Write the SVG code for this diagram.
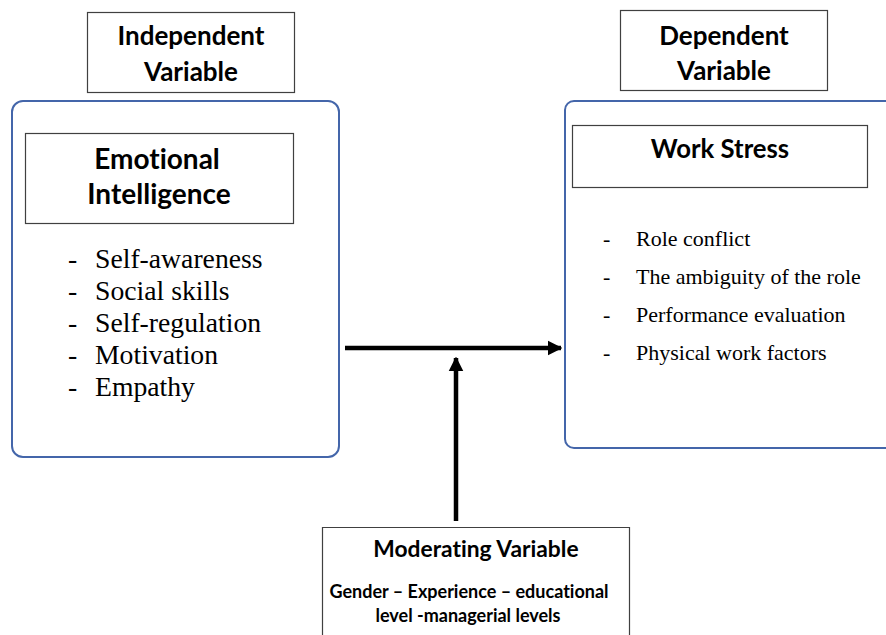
<svg xmlns="http://www.w3.org/2000/svg" width="886" height="635" viewBox="0 0 886 635">
  <defs>
    <style>
      .label { fill: none; stroke: #404040; stroke-width: 1.2; }
      .panel { fill: none; stroke: #4466aa; stroke-width: 2; }
      .head { font-family: "Lato", "Open Sans", "Liberation Sans", sans-serif; font-weight: bold; fill: #000; text-anchor: middle; font-variant-ligatures: none; }
      .item { font-family: "Liberation Serif", "Times New Roman", serif; fill: #000; }
      .link { stroke: #000; stroke-width: 4.5; fill: none; }
    </style>
    <marker id="arrow" viewBox="0 0 10 10" refX="9" refY="5" markerWidth="3.3" markerHeight="3.4" orient="auto" markerUnits="strokeWidth">
      <path d="M0,0 L10,5 L0,10 Z" fill="#000"/>
    </marker>
  </defs>
  <rect width="886" height="635" fill="#fff"/>

  <g id="independent-label">
    <rect class="label" x="87.5" y="12.5" width="207" height="80"/>
    <text class="head" x="191" y="45" font-size="26">Independent</text>
    <text class="head" x="191" y="81" font-size="26">Variable</text>
  </g>

  <g id="emotional-intelligence">
    <rect class="panel" x="12" y="101" width="327" height="356" rx="11"/>
    <rect class="label" x="25.5" y="133.5" width="268" height="90"/>
    <text class="head" x="157" y="169" font-size="28">Emotional</text>
    <text class="head" x="159" y="204" font-size="28">Intelligence</text>
    <g class="item" font-size="27.7">
      <text x="68" y="268">-</text><text x="95" y="268">Self-awareness</text>
      <text x="68" y="300">-</text><text x="95" y="300">Social skills</text>
      <text x="68" y="332">-</text><text x="95" y="332">Self-regulation</text>
      <text x="68" y="364">-</text><text x="95" y="364">Motivation</text>
      <text x="68" y="396">-</text><text x="95" y="396">Empathy</text>
    </g>
  </g>

  <g id="dependent-label">
    <rect class="label" x="620.5" y="10.5" width="207" height="80"/>
    <text class="head" x="724" y="45" font-size="26">Dependent</text>
    <text class="head" x="724" y="80" font-size="26">Variable</text>
  </g>

  <g id="work-stress">
    <rect class="panel" x="565" y="101" width="340" height="347" rx="9"/>
    <rect class="label" x="572.5" y="125.5" width="295" height="62"/>
    <text class="head" x="720" y="158" font-size="25.7">Work Stress</text>
    <g class="item" font-size="22">
      <text x="603" y="246">-</text><text x="636" y="246">Role conflict</text>
      <text x="603" y="284">-</text><text x="636" y="284">The ambiguity of the role</text>
      <text x="603" y="322">-</text><text x="636" y="322">Performance evaluation</text>
      <text x="603" y="360">-</text><text x="636" y="360">Physical work factors</text>
    </g>
  </g>

  <g id="moderating-variable">
    <path class="label" d="M322.5,636 V527.5 H629.5 V636"/>
    <text class="head" x="476" y="557" font-size="22.8">Moderating Variable</text>
    <text class="head" x="469" y="598" font-size="18">Gender – Experience – educational</text>
    <text class="head" x="468" y="622" font-size="18">level -managerial levels</text>
  </g>

  <g id="connectors">
    <line class="link" x1="345" y1="348" x2="561" y2="348" marker-end="url(#arrow)"/>
    <line class="link" x1="456" y1="521" x2="456" y2="358" marker-end="url(#arrow)"/>
  </g>
</svg>
